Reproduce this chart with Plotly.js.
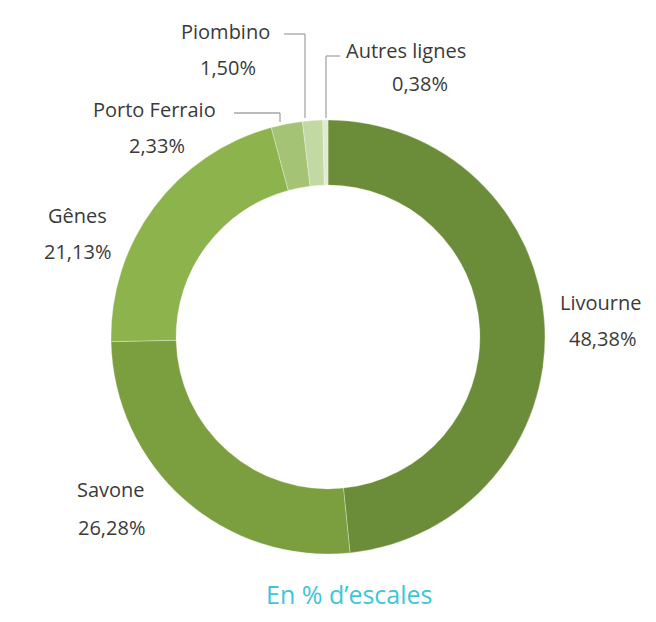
<!DOCTYPE html>
<html>
<head>
<meta charset="utf-8">
<script src="https://cdn.plot.ly/plotly-3.0.1.min.js"></script>
<style>html,body{margin:0;padding:0;background:#fff;}#chart{width:656px;height:622px;}</style>
</head>
<body>
<div id="chart"></div>
<script>
const categories = ["Livourne", "Savone", "Gênes", "Porto Ferraio", "Piombino", "Autres lignes"];
const values = [48.38, 26.28, 21.13, 2.33, 1.50, 0.38];
const colors = ["#6b8c38", "#7b9f3e", "#8db34d", "#a4c374", "#c2d9a4", "#dfebcf"];
const chartTitle = "En % d’escales";

const W = 656, H = 622;
const px = x => x / W;
const py = y => 1 - y / H;

// pixel centres of the name line and the value line of each label
const namePos = {
  "Livourne": [600, 302],
  "Savone": [111, 489],
  "Gênes": [77, 215],
  "Porto Ferraio": [154, 109],
  "Piombino": [226, 31],
  "Autres lignes": [406, 51]
};
const valuePos = {
  "Livourne": [602, 338],
  "Savone": [111, 527],
  "Gênes": [77, 252],
  "Porto Ferraio": [157, 145],
  "Piombino": [228, 67],
  "Autres lignes": [420, 84]
};

const fmt = v => v.toFixed(2).replace(".", ",") + "%";
const labelFont = {family: "'Open Sans', sans-serif", size: 20, color: "#3a3a3a"};

const annotations = [];
categories.forEach((c, i) => {
  annotations.push({
    text: c, x: px(namePos[c][0]), y: py(namePos[c][1]),
    xref: "paper", yref: "paper", showarrow: false,
    xanchor: "center", yanchor: "middle", font: labelFont
  });
  annotations.push({
    text: fmt(values[i]), x: px(valuePos[c][0]), y: py(valuePos[c][1]),
    xref: "paper", yref: "paper", showarrow: false,
    xanchor: "center", yanchor: "middle", font: labelFont
  });
});
annotations.push({
  text: chartTitle, x: px(349), y: py(594), xref: "paper", yref: "paper",
  showarrow: false, xanchor: "center", yanchor: "middle",
  font: {family: "'Open Sans', sans-serif", size: 25, color: "#3fc6d8"}
});

const lineStyle = {color: "#a6a6a6", width: 1.3};
const seg = (x0, y0, x1, y1) => ({type: "line", xref: "paper", yref: "paper",
  x0: px(x0), y0: py(y0), x1: px(x1), y1: py(y1), line: lineStyle});
const shapes = [
  seg(284, 34, 305, 34), seg(305, 34, 305, 118),
  seg(326, 56, 340, 56), seg(326, 56, 326, 118),
  seg(234, 113, 280, 113), seg(280, 113, 280, 122)
];

const data = [{
  type: "pie",
  labels: categories,
  values: values,
  sort: false,
  direction: "clockwise",
  rotation: 0,
  hole: 0.70,
  textinfo: "none",
  hoverinfo: "skip",
  marker: {colors: colors, line: {color: "rgba(255,255,255,0.5)", width: 0.6}},
  domain: {x: [px(111), px(545)], y: [py(554), py(120)]}
}];

const layout = {
  width: W, height: H,
  margin: {l: 0, r: 0, t: 0, b: 0},
  paper_bgcolor: "#ffffff",
  showlegend: false,
  annotations: annotations,
  shapes: shapes
};

Plotly.newPlot("chart", data, layout, {displayModeBar: false, staticPlot: true});
</script>
</body>
</html>
